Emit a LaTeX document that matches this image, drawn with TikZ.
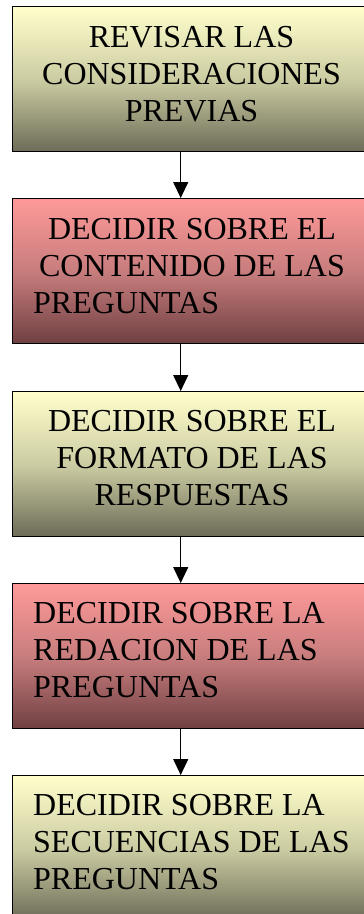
\documentclass[tikz,border=0pt]{standalone}
\usepackage{fontspec}
\setmainfont{Liberation Serif}
\usetikzlibrary{arrows.meta}
\definecolor{yelTop}{RGB}{255,255,204}
\definecolor{yelMid}{RGB}{204,204,163}
\definecolor{yelBot}{RGB}{108,108,88}
\definecolor{redTop}{RGB}{255,153,153}
\definecolor{redMid}{RGB}{200,125,125}
\definecolor{redBot}{RGB}{112,64,66}
\tikzset{
  stepbox/.style={draw=black, line width=1.4pt, rectangle, inner sep=0pt,
    minimum width=359pt, minimum height=145pt, anchor=north west},
  yelbox/.style={stepbox, top color=yelTop, bottom color=yelBot, middle color=yelMid},
  redbox/.style={stepbox, top color=redTop, bottom color=redBot, middle color=redMid},
  ctext/.style={inner sep=0pt, anchor=base, font=\fontsize{32}{37}\selectfont},
  ltext/.style={inner sep=0pt, anchor=base west, font=\fontsize{32}{37}\selectfont},
  arr/.style={line width=1.2pt, -{Triangle[width=15pt,length=16pt]}}
}
\begin{document}
\begin{tikzpicture}[x=1pt,y=-1pt]
\clip (0,0) rectangle (364,914);
\fill[white] (0,0) rectangle (364,914);
% boxes
\node[yelbox] (b1) at (12,6) {};
\node[redbox] (b2) at (12,198) {};
\node[yelbox] (b3) at (12,391) {};
\node[redbox] (b4) at (12,583) {};
\node[yelbox] (b5) at (12,775) {};
% texts box 1
\node[ctext] (t1a) at (191.5,47) {REVISAR LAS};
\node[ctext] (t1b) at (191.5,84) {CONSIDERACIONES};
\node[ctext] (t1c) at (191.5,121) {PREVIAS};
% box 2
\node[ctext] (t2a) at (192,239) {DECIDIR SOBRE EL};
\node[ctext] (t2b) at (192,276) {CONTENIDO DE LAS};
\node[ltext] (t2c) at (33,313) {PREGUNTAS};
% box 3
\node[ctext] (t3a) at (192,431) {DECIDIR SOBRE EL};
\node[ctext] (t3b) at (192,468) {FORMATO DE LAS};
\node[ctext] (t3c) at (192,505) {RESPUESTAS};
% box 4
\node[ltext] (t4a) at (33,623) {DECIDIR SOBRE LA};
\node[ltext] (t4b) at (33,660) {REDACION DE LAS};
\node[ltext] (t4c) at (33,697) {PREGUNTAS};
% box 5
\node[ltext] (t5a) at (33,815) {DECIDIR SOBRE LA};
\node[ltext] (t5b) at (33,852) {SECUENCIAS DE LAS};
\node[ltext] (t5c) at (33,889) {PREGUNTAS};
% arrows
\draw[arr] ([xshift=-11.5pt]b1.south) -- ([xshift=-11.5pt]b2.north);
\draw[arr] ([xshift=-11.5pt]b2.south) -- ([xshift=-11.5pt]b3.north);
\draw[arr] ([xshift=-11.5pt]b3.south) -- ([xshift=-11.5pt]b4.north);
\draw[arr] ([xshift=-11.5pt]b4.south) -- ([xshift=-11.5pt]b5.north);
\end{tikzpicture}
\end{document}
